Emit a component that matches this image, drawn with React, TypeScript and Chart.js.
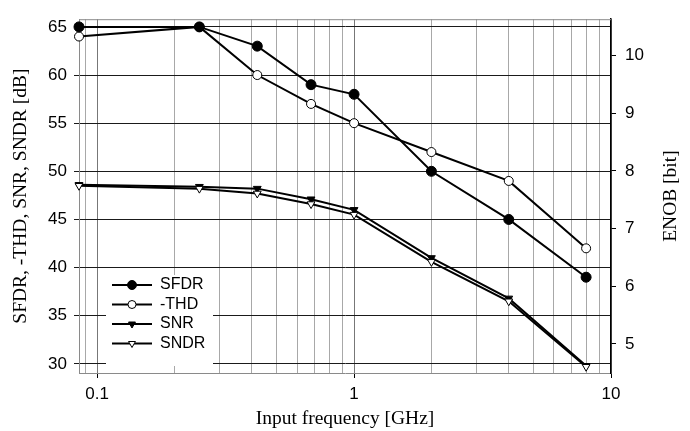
import React, { useEffect, useRef } from 'react';
import { Chart, registerables } from 'chart.js';
import { drawPoint } from 'chart.js/helpers';

Chart.register(...registerables);

// ---- data ----
const freqGHz = [0.085, 0.25, 0.42, 0.68, 1.0, 2.0, 4.0, 8.0];
const sfdr = [65, 65, 63, 59, 58, 50, 45, 39];
const thd = [64, 65, 60, 57, 55, 52, 49, 42];
const snr = [48.6, 48.4, 48.2, 47.1, 46.0, 41.0, 36.8, 29.8];
const sndr = [48.5, 48.2, 47.7, 46.6, 45.5, 40.6, 36.5, 29.7];
const seriesNames = ['SFDR', '-THD', 'SNR', 'SNDR'];
const dbTicks = [30, 35, 40, 45, 50, 55, 60, 65];
const enobTicks = [5, 6, 7, 8, 9, 10];
const freqGridTicks = [0.09, 0.1, 0.2, 0.3, 0.4, 0.5, 0.6, 0.7, 0.8, 0.9, 1, 2, 3, 4, 5, 6, 7, 8, 9, 10];
const freqLabelTicks = [0.1, 1, 10];

const xTitle = 'Input frequency [GHz]';
const yTitle = 'SFDR, -THD, SNR, SNDR [dB]';
const y2Title = 'ENOB [bit]';

const SANS = '"Liberation Sans", Arial, sans-serif';
const SERIF = '"Liberation Serif", "Times New Roman", serif';
const TITLE_SIZE = 19.5;

const isMajor = (v: number) => freqLabelTicks.some((m) => Math.abs(m - v) < 1e-9);

const framePlugin = {
  id: 'frame',
  beforeDatasetsDraw(chart: any) {
    const ctx = chart.ctx;
    const { left, right, top, bottom } = chart.chartArea;
    ctx.save();
    // top border
    ctx.strokeStyle = '#8a8a8a';
    ctx.lineWidth = 1;
    ctx.beginPath();
    ctx.moveTo(left, top + 0.5);
    ctx.lineTo(right, top + 0.5);
    ctx.stroke();

    // legend box
    const bx = left + 27;
    const by = bottom - 98;
    const bw = 107;
    const bh = 91;
    ctx.fillStyle = '#ffffff';
    ctx.fillRect(bx, by, bw, bh);
    const rowH = 19.5;
    chart.data.datasets.forEach((ds: any, i: number) => {
      const cy = by + 10 + i * rowH;
      ctx.strokeStyle = '#000';
      ctx.lineWidth = 2;
      ctx.beginPath();
      ctx.moveTo(bx + 6, cy);
      ctx.lineTo(bx + 46, cy);
      ctx.stroke();
      ctx.fillStyle = ds.pointBackgroundColor;
      ctx.strokeStyle = '#000';
      ctx.lineWidth = 1;
      drawPoint(ctx, { pointStyle: ds.pointStyle, rotation: ds.pointRotation || 0, radius: ds.pointRadius - 0.5, borderWidth: 1 }, bx + 26, cy);
      ctx.fillStyle = '#000';
      ctx.font = '16px ' + SANS;
      ctx.textBaseline = 'middle';
      ctx.textAlign = 'left';
      ctx.fillText(ds.label, bx + 54, cy);
    });
    ctx.restore();
  },
  afterDraw(chart: any) {
    const ctx = chart.ctx;
    const { top, bottom } = chart.chartArea;
    ctx.save();
    ctx.translate(671, (top + bottom) / 2);
    ctx.rotate(-Math.PI / 2);
    ctx.fillStyle = '#000';
    ctx.font = TITLE_SIZE + 'px ' + SERIF;
    ctx.textAlign = 'center';
    ctx.textBaseline = 'middle';
    ctx.fillText(y2Title, 0, 0);
    ctx.restore();
  },
};

export default function App() {
  const ref = useRef<HTMLCanvasElement | null>(null);
  useEffect(() => {
    if (!ref.current) return;
    const mk = (vals: number[]) => freqGHz.map((f, i) => ({ x: f, y: vals[i] }));
    const base = {
      borderColor: '#000',
      borderWidth: 2,
      pointBorderColor: '#000',
      pointBorderWidth: 1,
      tension: 0,
      clip: false as any,
      yAxisID: 'y',
    };
    const chart = new Chart(ref.current, {
      type: 'line',
      data: {
        datasets: [
          { ...base, order: 0, label: seriesNames[0], data: mk(sfdr), pointStyle: 'circle', pointRadius: 5, pointBackgroundColor: '#000' },
          { ...base, order: 1, label: seriesNames[1], data: mk(thd), pointStyle: 'circle', pointRadius: 4.5, pointBackgroundColor: '#fff' },
          { ...base, order: 3, label: seriesNames[2], data: mk(snr), pointStyle: 'triangle', pointRotation: 180, pointRadius: 4.5, pointBackgroundColor: '#000' },
          { ...base, order: 2, label: seriesNames[3], data: mk(sndr), pointStyle: 'triangle', pointRotation: 180, pointRadius: 4.5, pointBackgroundColor: '#fff' },
        ] as any,
      },
      options: {
        animation: false,
        responsive: false,
        maintainAspectRatio: false,
        layout: { padding: { top: 12, left: 0, right: 0, bottom: 0 } },
        plugins: { legend: { display: false }, tooltip: { enabled: false } },
        scales: {
          x: {
            type: 'logarithmic',
            min: 0.085,
            max: 10,
            afterBuildTicks: (s: any) => {
              s.ticks = freqGridTicks.map((v) => ({ value: v, major: isMajor(v) }));
            },
            afterFit: (s: any) => {
              s.height = 58;
            },
            ticks: {
              autoSkip: false,
              maxRotation: 0,
              padding: 6,
              color: '#000',
              font: { family: SANS, size: 17 },
              callback: (v: any) => (isMajor(Number(v)) ? String(Number(v)) : ''),
            },
            grid: {
              color: (c: any) => (c.tick && isMajor(c.tick.value) ? '#777' : '#a8a8a8'),
              tickColor: (c: any) => (c.tick && isMajor(c.tick.value) ? '#000' : 'rgba(0,0,0,0)'),
              tickLength: 5,
              lineWidth: 1,
            },
            border: { color: '#8a8a8a', width: 1 },
            title: {
              display: true,
              text: xTitle,
              color: '#000',
              font: { family: SERIF, size: TITLE_SIZE },
              padding: { top: 0, bottom: 0 },
            },
          },
          y: {
            type: 'linear',
            position: 'left',
            min: 29.05,
            max: 65.8,
            afterBuildTicks: (s: any) => {
              s.ticks = dbTicks.map((v) => ({ value: v }));
            },
            afterFit: (s: any) => {
              s.width = 79;
            },
            ticks: {
              padding: 7,
              color: '#000',
              font: { family: SANS, size: 17 },
              callback: (v: any) => String(v),
            },
            grid: { color: '#1a1a1a', lineWidth: 1, tickLength: 5, tickColor: '#1a1a1a' },
            border: { color: '#8a8a8a', width: 1 },
            title: {
              display: true,
              text: yTitle,
              color: '#000',
              font: { family: SERIF, size: TITLE_SIZE },
              padding: { top: 9.5, bottom: 0 },
            },
          },
          y2: {
            type: 'linear',
            position: 'right',
            min: 4.496,
            max: 10.63,
            afterBuildTicks: (s: any) => {
              s.ticks = enobTicks.map((v) => ({ value: v }));
            },
            afterFit: (s: any) => {
              s.width = 79;
            },
            ticks: {
              padding: 9,
              color: '#000',
              font: { family: SANS, size: 17 },
              callback: (v: any) => String(v),
            },
            grid: { drawOnChartArea: false, tickLength: 5, tickColor: '#000', lineWidth: 1 },
            border: { color: '#000', width: 1.5 },
          },
        },
      } as any,
      plugins: [framePlugin],
    });
    return () => chart.destroy();
  }, []);
  return (
    <div style={{ position: 'fixed', left: 0, top: 0, width: 690, height: 431, background: '#fff' }}>
      <canvas ref={ref} width={690} height={431} style={{ width: 690, height: 431, display: 'block' }} />
    </div>
  );
}
